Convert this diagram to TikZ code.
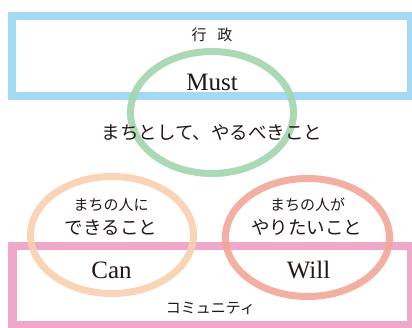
\documentclass[tikz,border=0pt]{standalone}
\usepackage{fontspec}
\setmainfont{Liberation Serif}
\newfontfamily\jp{Noto Sans CJK JP}
\definecolor{gyblue}{HTML}{A3D9F5}
\definecolor{gygreen}{HTML}{A2D5AE}
\definecolor{gyorange}{HTML}{FAD0B0}
\definecolor{gysalmon}{HTML}{F2A898}
\definecolor{gypink}{HTML}{F0A8CA}
\definecolor{gytext}{HTML}{231815}
\tikzset{
  framebox/.style={line width=8.3pt},
  ring/.style={line width=7pt, draw opacity=0.9},
  en/.style={font=\fontsize{25}{25}\selectfont, text=gytext, inner sep=0pt, anchor=base},
  jbig/.style={font=\jp\fontsize{18.5}{18.5}\selectfont, text=gytext, inner sep=0pt},
  jsmall/.style={font=\jp\fontsize{15}{15}\selectfont, text=gytext, inner sep=0pt},
}
\begin{document}
\begin{tikzpicture}[x=1pt,y=1pt]
\clip (0,0) rectangle (412,327);
\fill[white] (0,0) rectangle (412,327);
% frames
\draw[framebox, gyblue] (12.3,310.7) rectangle (411.5,230.8);
\draw[framebox, gypink] (12.5,81) rectangle (411.5,2);
% rings
\draw[ring, gygreen] (212,214.5) ellipse [x radius=81.5, y radius=61];
\draw[ring, gyorange] (112,92) ellipse [x radius=81.5, y radius=58.5];
\draw[ring, gysalmon] (307.5,89.5) ellipse [x radius=82, y radius=59];
% labels
\node[jsmall] (gyosei) at (212,292) {行\hspace{11pt}政};
\node[en] (must) at (212,236) {Must};
\node[jbig] (machi) at (212,194) {まちとして、やるべきこと};
\node[jsmall] (can1) at (111,122) {まちの人に};
\node[jbig] (can2) at (111,99) {できること};
\node[en] (can) at (111.5,49) {Can};
\node[jsmall] (will1) at (307.5,122) {まちの人が};
\node[jbig] (will2) at (306.5,99) {やりたいこと};
\node[en] (will) at (308.5,49) {Will};
\node[jsmall] (comm) at (210.5,19) {コミュニティ};
\end{tikzpicture}
\end{document}
